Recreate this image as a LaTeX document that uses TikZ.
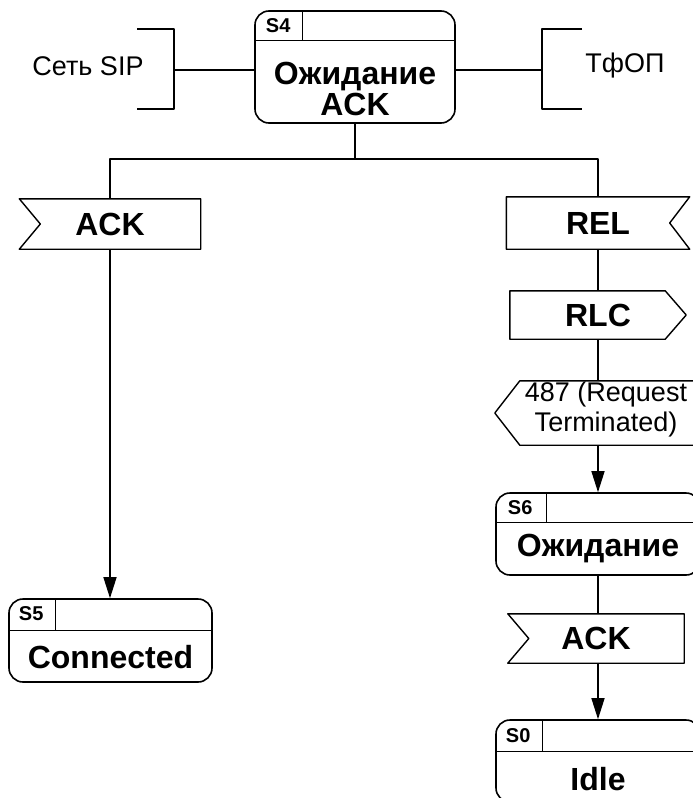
\documentclass[tikz,border=0pt]{standalone}
\usepackage{fontspec}
\setmainfont{Liberation Sans}
\usetikzlibrary{calc,arrows.meta}
\tikzset{
  ln/.style={line width=1.4pt, line join=round},
  arr/.style={ln, -{Triangle[length=21pt,width=13pt]}},
  statebox/.style={draw, ln, line width=1.6pt, rounded corners=14pt, inner sep=0pt},
  sigbox/.style={inner sep=0pt, font=\fontsize{32}{33}\selectfont\bfseries},
  bigtxt/.style={inner sep=0pt, align=center, font=\fontsize{32}{31}\selectfont\bfseries},
  lbltxt/.style={inner sep=0pt, font=\fontsize{20}{21}\selectfont\bfseries},
  plaintxt/.style={inner sep=0pt, align=center, font=\fontsize{27}{30}\selectfont},
}
\begin{document}
\begin{tikzpicture}[x=1pt,y=-1pt]
\useasboundingbox (0,0) rectangle (693,798);

% ---- S4 state
\node[statebox, minimum width=200pt, minimum height=112pt] (s4) at (355,67) {};
\draw[ln] ($(s4.north west)+(0,30)$) -- ($(s4.north east)+(0,30)$);
\draw[ln] ($(s4.north west)+(48,0)$) -- ($(s4.north west)+(48,30)$);
\node[lbltxt] (s4l) at ($(s4.north west)+(24,15)$) {S4};
\node[bigtxt] (s4t) at (355,89) {Ожидание\\ACK};

% ---- brackets
\draw[ln] (137,29) -- (174,29) -- (174,109) -- (137,109);
\coordinate (sipb) at (174,70);
\node[plaintxt] (sip) at (88,66) {Сеть SIP};
\draw[ln] (sipb) -- (sipb -| s4.west);

\draw[ln] (582,29) -- (542,29) -- (542,109) -- (582,109);
\coordinate (tfb) at (542,70);
\node[plaintxt] (tfop) at (625,66) {ТфОП};
\draw[ln] (tfb -| s4.east) -- (tfb);

% ---- bus
\coordinate (bus) at (355,159);
\draw[ln] (s4.south) -- (bus);

% ---- left ACK input
\node[sigbox, minimum width=181pt, minimum height=50pt] (ackL) at (110,224) {ACK};
\draw[ln] (ackL.north west) -- (ackL.north east) -- (ackL.south east) -- (ackL.south west) -- ($(ackL.west)+(21,0)$) -- cycle;

% ---- REL input
\node[sigbox, minimum width=183pt, minimum height=52pt] (rel) at (598,223) {REL};
\draw[ln] (rel.north west) -- (rel.north east) -- ($(rel.east)+(-20,0)$) -- (rel.south east) -- (rel.south west) -- cycle;

\draw[ln] (ackL.north) |- (bus) -| (rel.north);

% ---- RLC output
\node[sigbox, minimum width=176pt, minimum height=48pt] (rlc) at (598,315) {RLC};
\draw[ln] (rlc.north west) -- ($(rlc.north east)+(-21,0)$) -- (rlc.east) -- ($(rlc.south east)+(-21,0)$) -- (rlc.south west) -- cycle;
\draw[ln] (rel.south) -- (rlc.north);

% ---- 487 output (to west)
\node[inner sep=0pt, minimum width=206pt, minimum height=64pt] (req) at (598,413) {};
\draw[ln] ($(req.north west)+(25,0)$) -- (req.north east) -- (req.south east) -- ($(req.south west)+(25,0)$) -- (req.west) -- cycle;
\node[plaintxt] (reqt) at (606,410) {487 (Request\\Terminated)};
\draw[ln] (rlc.south) -- (req.north);

% ---- S6 state
\node[statebox, minimum width=204pt, minimum height=82pt] (s6) at (598,534) {};
\draw[ln] ($(s6.north west)+(0,30)$) -- ($(s6.north east)+(0,30)$);
\draw[ln] ($(s6.north west)+(51,0)$) -- ($(s6.north west)+(51,30)$);
\node[lbltxt] (s6l) at ($(s6.north west)+(25,15)$) {S6};
\node[bigtxt] (s6t) at (598,549) {Ожидание};
\draw[arr] (req.south) -- (s6.north);

% ---- right ACK input
\node[sigbox, minimum width=176pt, minimum height=49pt] (ackR) at (596,638.5) {ACK};
\draw[ln] (ackR.north west) -- (ackR.north east) -- (ackR.south east) -- (ackR.south west) -- ($(ackR.west)+(21,0)$) -- cycle;
\draw[ln] (s6.south) -- (s6.south |- ackR.north);

% ---- S0 state
\node[statebox, minimum width=204pt, minimum height=82pt] (s0) at (598,761) {};
\draw[ln] ($(s0.north west)+(0,32)$) -- ($(s0.north east)+(0,32)$);
\draw[ln] ($(s0.north west)+(47,0)$) -- ($(s0.north west)+(47,32)$);
\node[lbltxt] (s0l) at ($(s0.north west)+(23,16)$) {S0};
\node[bigtxt] (s0t) at (598,779) {Idle};
\draw[arr] (s0.north |- ackR.south) -- (s0.north);

% ---- S5 state
\node[statebox, minimum width=203pt, minimum height=83pt] (s5) at (110.5,640.5) {};
\draw[ln] ($(s5.north west)+(0,32)$) -- ($(s5.north east)+(0,32)$);
\draw[ln] ($(s5.north west)+(47,0)$) -- ($(s5.north west)+(47,32)$);
\node[lbltxt] (s5l) at ($(s5.north west)+(23,15)$) {S5};
\node[bigtxt] (s5t) at (110.5,657) {Connected};
\draw[arr] (ackL.south) -- (ackL.south |- s5.north);
\end{tikzpicture}
\end{document}
